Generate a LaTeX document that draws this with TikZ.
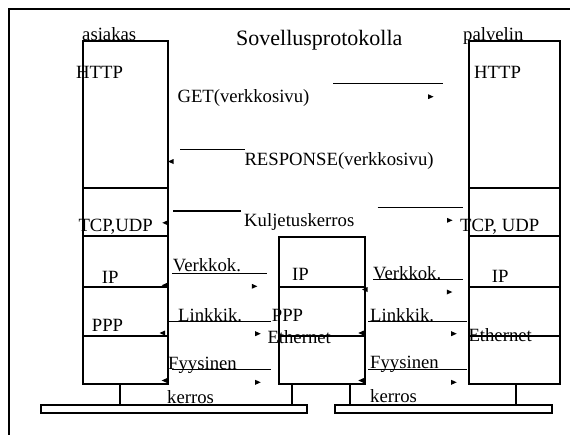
\documentclass[tikz,border=0pt]{standalone}
\usepackage{fontspec}
\setmainfont{Liberation Serif}
\begin{document}
\begin{tikzpicture}[x=1pt,y=-1pt,
  box/.style={draw=black,line width=1.5pt,fill=none,inner sep=0pt,anchor=north west},
  divider/.style={draw=black,line width=1.5pt},
  msg/.style={draw=black,line width=1.3pt},
  lbl/.style={inner sep=0pt,anchor=base west,font=\fontsize{18.7}{20}\selectfont},
  title/.style={inner sep=0pt,anchor=base west,font=\fontsize{22}{24}\selectfont},
  tip/.style={fill=black,draw=none}]
\useasboundingbox (0,0) rectangle (570,434);
\clip (0,0) rectangle (570,434);
% outer frame (extends beyond the picture)
\draw[line width=1.3pt] (9,9) rectangle (590,450);
% protocol stacks
\node[box,minimum width=85pt,minimum height=343pt] (client) at (82,40) {};
\node[box,minimum width=86pt,minimum height=147pt] (router) at (278,236) {};
\node[box,minimum width=91pt,minimum height=343pt] (server) at (468,40) {};
\foreach \y in {188,236,287,336} {
  \draw[divider] (82,\y) -- (167,\y);
  \draw[divider] (468,\y) -- (559,\y);
}
\foreach \y in {287,336} \draw[divider] (278,\y) -- (364,\y);
% buses
\node[box,minimum width=266pt,minimum height=8pt] (busL) at (40,404) {};
\node[box,minimum width=217pt,minimum height=8pt] (busR) at (334,404) {};
\draw[divider] (120,383) -- (120,404);
\draw[divider] (292,383) -- (292,404);
\draw[divider] (350,383) -- (350,404);
\draw[divider] (516,383) -- (516,404);
% texts
\node[lbl] (tAs) at (82,40) {asiakas};
\node[lbl] (tPal) at (463,40) {palvelin};
\node[title] (tSov) at (236,45) {Sovellusprotokolla};
\node[lbl] (tH1) at (76,78.3) {HTTP};
\node[lbl] (tH2) at (474,78.3) {HTTP};
\node[lbl] (tGet) at (177.3,102.7) {GET(verkkosivu)};
\node[lbl] (tResp) at (244.3,165) {RESPONSE(verkkosivu)};
\node[lbl] (tKul) at (244,226) {Kuljetuskerros};
\node[lbl] (tTcp1) at (78.3,231.7) {TCP,UDP};
\node[lbl] (tTcp2) at (460,231.7) {TCP, UDP};
\node[lbl] (tVk1) at (172.7,271.7) {Verkkok.};
\node[lbl] (tVk2) at (373,279.3) {Verkkok.};
\node[lbl] (tIp1) at (101.7,283.3) {IP};
\node[lbl] (tIp2) at (292,280) {IP};
\node[lbl] (tIp3) at (491.7,282.7) {IP};
\node[lbl] (tLk1) at (178,321) {Linkkik.};
\node[lbl] (tLk2) at (370,321) {Linkkik.};
\node[lbl] (tPpp1) at (91.7,331.7) {PPP};
\node[lbl] (tPpp2) at (271.7,321.7) {PPP};
\node[lbl] (tEth1) at (267.3,343.3) {Ethernet};
\node[lbl] (tEth2) at (468.3,341.7) {Ethernet};
\node[lbl] (tFy1) at (168,369) {Fyysinen};
\node[lbl] (tFy2) at (370,368.3) {Fyysinen};
\node[lbl] (tKe1) at (167,403.3) {kerros};
\node[lbl] (tKe2) at (370,402.7) {kerros};
% message lines
\draw[msg] (333,83.3) -- (442.7,83.3);
\draw[msg] (180,149.5) -- (244.5,149.5);
\draw[msg] (173,211) -- (240.7,211);
\draw[msg] (377.7,207.3) -- (462.7,207.3);
\draw[msg] (172,273.7) -- (266.7,273.7);
\draw[msg] (373,279.3) -- (462.7,279.3);
\draw[msg] (167,321.7) -- (270.7,321.7);
\draw[msg] (368,321.7) -- (467,321.7);
\draw[msg] (172,369.3) -- (270.7,369.3);
\draw[msg] (368,369.3) -- (467,369.3);
% small arrow tips: right-pointing
\foreach \x/\y in {433.5/96.7, 452.5/220.3, 257.3/286.3, 452.3/292, 260.7/333.7, 260.7/382.3, 456.7/333.7, 456.7/382.3}
  \fill[tip] (\x,\y) -- (\x-5.5,\y-2.5) -- (\x-5.5,\y+2.5) -- cycle;
% small arrow tips: left-pointing
\foreach \x/\y in {168/161.5, 162.3/222.8, 161.7/285.3, 159.5/333, 161.7/380.5, 362/289.5, 358.3/333, 358.3/380.5}
  \fill[tip] (\x,\y) -- (\x+5.5,\y-2.5) -- (\x+5.5,\y+2.5) -- cycle;
\end{tikzpicture}
\end{document}
